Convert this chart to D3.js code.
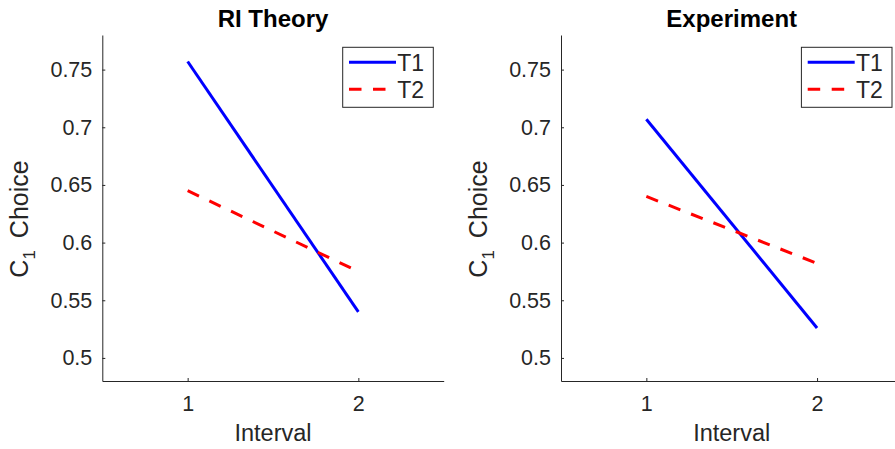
<!doctype html>
<html lang="en">
<head>
<meta charset="UTF-8">
<title>C1 Choice by Interval</title>
<style>
  body { margin: 0; background: #fff; }
  svg { font-family: "Liberation Sans", Arial, Helvetica, sans-serif; }
  .tick text { fill: #262626; }
  .domain, .tick line { stroke: #262626; }
</style>
</head>
<body>
<div id="chart"></div>
<script src="https://d3js.org/d3.v7.min.js"></script>
<script>
  const intervals = [1, 2]
  const seriesNames = ['T1', 'T2']
  const theoryT1 = [0.757, 0.540]
  const theoryT2 = [0.645, 0.575]
  const experimentT1 = [0.707, 0.526]
  const experimentT2 = [0.640, 0.582]
  const yTicks = [0.5, 0.55, 0.6, 0.65, 0.7, 0.75]
  const xTicks = [1, 2]
  const panelTitles = ['RI Theory', 'Experiment']

  ;(function () {
    const panels = [
      {title: panelTitles[0], series: [theoryT1, theoryT2], left: 102.3},
      {title: panelTitles[1], series: [experimentT1, experimentT2], left: 561}
    ]

    const styles = [
      {color: '#0000ff', dash: null},
      {color: '#ff0000', dash: '12.5,11.5'}
    ]

    const width = 895
    const height = 449
    const plotW = 341.4
    const plotTop = 35
    const plotBottom = 381
    const plotH = plotBottom - plotTop

    const svg = d3.select('#chart')
      .append('svg')
      .attr('width', width)
      .attr('height', height)

    const x = d3.scaleLinear().domain([0.5, 2.5]).range([0, plotW])
    const y = d3.scaleLinear().domain([0.48, 0.78]).range([plotH, 0])

    panels.forEach(p => {
      const g = svg.append('g').attr('transform', `translate(${p.left}, ${plotTop})`)

      g.append('g')
        .attr('transform', `translate(0, ${plotH})`)
        .call(d3.axisBottom(x).tickValues(xTicks).tickFormat(d3.format('d'))
          .tickSizeInner(-3).tickSizeOuter(0).tickPadding(15))

      g.append('g')
        .call(d3.axisLeft(y).tickValues(yTicks).tickFormat(d3.format(''))
          .tickSizeInner(-3).tickSizeOuter(0).tickPadding(10))

      g.selectAll('.tick text').style('font-size', '21.5px')

      const line = d3.line()
        .x((d, i) => x(intervals[i]))
        .y(d => y(d))

      p.series.forEach((vals, i) => {
        g.append('path')
          .datum(vals)
          .attr('d', line)
          .attr('fill', 'none')
          .attr('stroke', styles[i].color)
          .attr('stroke-width', 3)
          .attr('stroke-dasharray', styles[i].dash)
      })

      g.append('text')
        .attr('x', plotW / 2)
        .attr('y', -8.5)
        .attr('text-anchor', 'middle')
        .style('font-size', '24px')
        .style('font-weight', 'bold')
        .text(p.title)

      g.append('text')
        .attr('x', plotW / 2)
        .attr('y', plotH + 60)
        .attr('text-anchor', 'middle')
        .style('font-size', '23.5px')
        .attr('fill', '#262626')
        .text('Interval')

      const ylab = g.append('text')
        .attr('transform', `translate(-74, ${plotH / 2 + 11}) rotate(-90)`)
        .attr('text-anchor', 'middle')
        .style('font-size', '25px')
        .attr('fill', '#262626')
      ylab.append('tspan').text('C')
      ylab.append('tspan').attr('dy', 7).style('font-size', '17px').text('1')
      ylab.append('tspan').attr('dy', -7).attr('dx', 12).text('Choice')

      // legend
      const lg = g.append('g').attr('transform', `translate(240.4, ${47.3 - plotTop})`)
      lg.append('rect')
        .attr('width', 90.6)
        .attr('height', 60)
        .attr('fill', '#fff')
        .attr('stroke', '#262626')
        .attr('stroke-width', 1)
      seriesNames.forEach((name, i) => {
        const ly = 15 + i * 27
        lg.append('line')
          .attr('x1', 6.3).attr('x2', 53.3)
          .attr('y1', ly).attr('y2', ly)
          .attr('stroke', styles[i].color)
          .attr('stroke-width', 3)
          .attr('stroke-dasharray', styles[i].dash)
        lg.append('text')
          .attr('x', 54.5)
          .attr('y', ly + 8.5)
          .style('font-size', '23px')
          .attr('fill', '#262626')
          .text(name)
      })
    })
  })()
</script>
</body>
</html>
